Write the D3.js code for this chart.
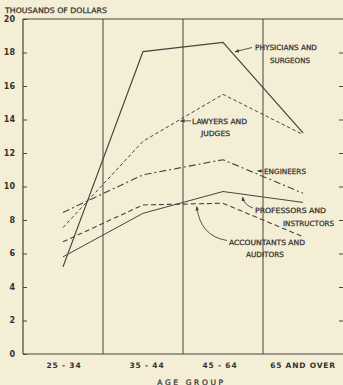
<!DOCTYPE html>
<html>
<head>
<meta charset="utf-8">
<script src="https://cdn.jsdelivr.net/npm/d3@7/dist/d3.min.js"></script>
<style>
  html, body { margin: 0; padding: 0; background: #f4eed7; }
  svg { display: block; }
  text { font-family: "DejaVu Sans", sans-serif; fill: #33322d; }
  .lbl { stroke: #33322d; stroke-width: 0.25; }
</style>
</head>
<body>
<svg id="chart" width="343" height="385"></svg>
<script>
// Median earnings (thousands of dollars) by age group for five professions
const ageGroups = ["25 - 34", "35 - 44", "45 - 64", "65 AND OVER"];
const yTicks = [0, 2, 4, 6, 8, 10, 12, 14, 16, 18, 20];

const physicians  = [5.2, 18.05, 18.6, 13.2];
const lawyers     = [7.55, 12.7, 15.5, 13.1];
const engineers   = [8.45, 10.7, 11.6, 9.6];
const professors  = [5.8, 8.4, 9.7, 9.05];
const accountants = [6.7, 8.9, 9.0, 7.0];

const seriesStyles = [
  { values: physicians,  width: 1.2, dash: null },
  { values: lawyers,     width: 1.0, dash: "3.5,2.5" },
  { values: engineers,   width: 1.1, dash: "7,3,2,3" },
  { values: professors,  width: 1.0, dash: null },
  { values: accountants, width: 1.1, dash: "5,3" }
];

const svg = d3.select("#chart");
const mLeft = 23, mRight = 343, mTop = 19, mBottom = 354;
const ink = "#45443e";

const x = d3.scaleBand().domain(ageGroups).range([mLeft, mRight]).paddingInner(0).paddingOuter(0);
const y = d3.scaleLinear().domain([0, 20]).range([mBottom, mTop]);
const cx = d => x(d) + x.bandwidth() / 2;

// Frame: left axis, baseline, top rule
svg.append("line").attr("x1", mLeft).attr("x2", mLeft).attr("y1", mTop).attr("y2", mBottom)
  .attr("stroke", ink).attr("stroke-width", 1.2);
svg.append("line").attr("x1", mLeft).attr("x2", mRight).attr("y1", mBottom).attr("y2", mBottom)
  .attr("stroke", ink).attr("stroke-width", 1.2);
svg.append("line").attr("x1", mLeft).attr("x2", mRight).attr("y1", mTop).attr("y2", mTop)
  .attr("stroke", ink).attr("stroke-width", 1);

// Vertical separators between age groups
svg.append("g").selectAll("line").data(ageGroups.slice(1)).join("line")
  .attr("x1", d => x(d)).attr("x2", d => x(d)).attr("y1", mTop).attr("y2", mBottom)
  .attr("stroke", ink).attr("stroke-width", 1);

// Left axis with inward ticks
const yAxis = svg.append("g").attr("transform", `translate(${mLeft},0)`)
  .call(d3.axisRight(y).tickValues(yTicks).tickSize(4).tickFormat(""));
yAxis.select(".domain").remove();
yAxis.selectAll("line").attr("stroke", ink);

// Right side inward ticks
const yAxisR = svg.append("g").attr("transform", `translate(${mRight},0)`)
  .call(d3.axisLeft(y).tickValues(yTicks.filter(v => v > 0 && v < 20)).tickSize(4).tickFormat(""));
yAxisR.select(".domain").remove();
yAxisR.selectAll("line").attr("stroke", ink);

// Y tick labels
svg.append("g").selectAll("text").data(yTicks).join("text")
  .attr("x", 15).attr("y", d => y(d)).attr("dy", "0.35em")
  .attr("text-anchor", "end").attr("font-size", 8).attr("font-weight", "bold")
  .text(d => d);

svg.append("text").attr("class", "lbl").attr("x", 5).attr("y", 12.5).attr("font-size", 7.5)
  .attr("textLength", 102).attr("lengthAdjust", "spacingAndGlyphs")
  .text("THOUSANDS OF DOLLARS");

// X category labels
const labelShift = { "25 - 34": 1, "35 - 44": 4, "45 - 64": -3, "65 AND OVER": 0 };
svg.append("g").selectAll("text").data(ageGroups).join("text")
  .attr("x", d => cx(d) + labelShift[d])
  .attr("y", 368).attr("text-anchor", "middle").attr("font-size", 7.5).attr("font-weight", "bold")
  .attr("letter-spacing", 0.8)
  .text(d => d);

svg.append("text").attr("class", "lbl").attr("x", 191.5).attr("y", 384.5).attr("text-anchor", "middle")
  .attr("font-size", 7.5).attr("letter-spacing", 2.6).text("AGE GROUP");

// Series lines
const line = d3.line().x((v, i) => cx(ageGroups[i])).y(v => y(v));
svg.append("g").selectAll("path").data(seriesStyles).join("path")
  .attr("d", s => line(s.values))
  .attr("fill", "none").attr("stroke", ink)
  .attr("stroke-width", s => s.width)
  .attr("stroke-dasharray", s => s.dash);

// Arrowhead
svg.append("defs").append("marker").attr("id", "arr")
  .attr("viewBox", "0 0 10 10").attr("refX", 9).attr("refY", 5)
  .attr("markerWidth", 5).attr("markerHeight", 5).attr("orient", "auto-start-reverse")
  .append("path").attr("d", "M0,1 L10,5 L0,9 Z").attr("fill", ink);

// Series labels
const labels = [
  { lines: [["PHYSICIANS AND", 255, 50, 62], ["SURGEONS", 270, 63, 40]] },
  { lines: [["LAWYERS AND", 192, 123.5, 55], ["JUDGES", 201, 136, 29]] },
  { lines: [["ENGINEERS", 264, 174, 42]] },
  { lines: [["PROFESSORS AND", 255, 213, 71], ["INSTRUCTORS", 283, 225.5, 51]] },
  { lines: [["ACCOUNTANTS AND", 229, 244.5, 76], ["AUDITORS", 246, 257, 38]] }
];
labels.forEach(l => l.lines.forEach(([t, lx, ly, w]) => {
  svg.append("text").attr("class", "lbl").attr("x", lx).attr("y", ly).attr("font-size", 7.2)
    .attr("textLength", w).attr("lengthAdjust", "spacingAndGlyphs").text(t);
}));

// Leader arrows
const leaders = [
  "M252,47.5 L235,51.8",
  "M191,120.8 L180.5,121",
  "M263,171 L257.5,171",
  "M253,208 Q244,205 242.5,197",
  "M227,240.5 Q200,236 196.8,206.5"
];
svg.append("g").selectAll("path").data(leaders).join("path")
  .attr("d", d => d).attr("fill", "none").attr("stroke", ink).attr("stroke-width", 0.9)
  .attr("marker-end", "url(#arr)");
</script>
</body>
</html>
